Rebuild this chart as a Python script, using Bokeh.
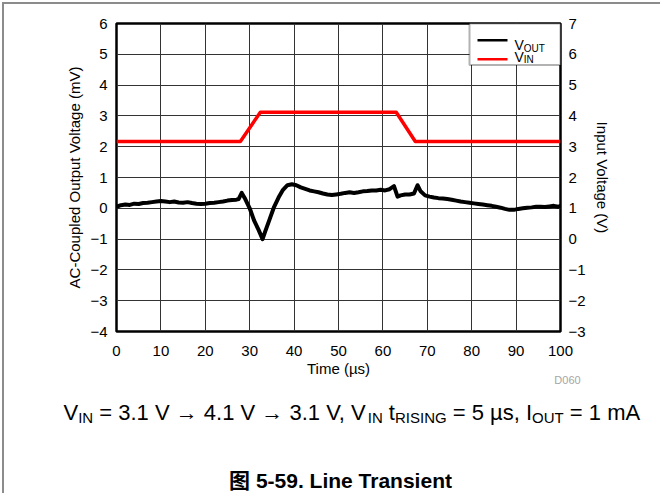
from bokeh.plotting import figure
from bokeh.models import Range1d, LinearAxis, Label, FixedTicker, BoxAnnotation
from bokeh.embed import file_html
from bokeh.resources import INLINE

# ---------------- data ----------------
t_vout = [0, 1, 2, 3, 4, 5, 6, 7, 8, 9, 10, 11, 12, 13, 14, 15, 16, 17, 18, 19, 20,
          21, 22, 23, 24, 25, 26, 27, 27.5, 28.2, 29, 30, 31, 32, 32.9, 33.5, 34.5,
          35.5, 36.5, 37.5, 38.5, 39.5, 40.5, 41.5, 42.5, 43.5, 44.5, 45.5, 46.5,
          47.5, 48.5, 49.5, 50.5, 51.5, 52.5, 53.5, 54.5, 55.5, 56.5, 57.5, 58.5,
          59.5, 60.5, 61.5, 62.5, 63.3, 64, 65, 66, 67, 67.8, 68.5, 69.5, 70.5,
          71.5, 72.5, 73.5, 74.5, 75.5, 76.5, 77.5, 78.5, 79.5, 80.5, 81.5, 82.5,
          83.5, 84.5, 85.5, 86.5, 87.5, 88.5, 89.5, 90.5, 91.5, 92.5, 93.5, 94.5,
          95.5, 96.5, 97.5, 98.5, 99.5, 100]
vout = [0.05, 0.10, 0.12, 0.11, 0.15, 0.14, 0.17, 0.18, 0.20, 0.22, 0.24, 0.22,
        0.20, 0.22, 0.19, 0.18, 0.20, 0.17, 0.15, 0.14, 0.15, 0.17, 0.18, 0.20,
        0.22, 0.25, 0.27, 0.28, 0.30, 0.50, 0.30, 0.00, -0.40, -0.70, -1.00, -0.75,
        -0.35, 0.05, 0.35, 0.60, 0.75, 0.78, 0.75, 0.68, 0.63, 0.58, 0.55, 0.52,
        0.48, 0.45, 0.43, 0.45, 0.47, 0.50, 0.52, 0.50, 0.52, 0.55, 0.56, 0.58,
        0.58, 0.60, 0.58, 0.62, 0.72, 0.38, 0.42, 0.45, 0.45, 0.48, 0.75, 0.55,
        0.42, 0.38, 0.35, 0.33, 0.32, 0.30, 0.28, 0.25, 0.22, 0.20, 0.18, 0.16,
        0.14, 0.12, 0.10, 0.08, 0.05, 0.02, -0.02, -0.05, -0.05, -0.02, 0.00,
        0.02, 0.03, 0.05, 0.05, 0.04, 0.06, 0.08, 0.05, 0.08]
t_vin = [0, 27.9, 32.4, 63.0, 67.3, 100]
vin = [3.17, 3.17, 4.12, 4.12, 3.17, 3.17]

x_ticks = [0, 10, 20, 30, 40, 50, 60, 70, 80, 90, 100]
left_ticks = [-4, -3, -2, -1, 0, 1, 2, 3, 4, 5, 6]
right_ticks = [-3, -2, -1, 0, 1, 2, 3, 4, 5, 6, 7]

x_title = "Time (µs)"
left_title = "AC-Coupled Output Voltage (mV)"
right_title = "Input Voltage (V)"
legend_parts = [[("V", False), ("OUT", True)], [("V", False), ("IN", True)]]
caption_parts = [("V", False), ("IN", True), (" = 3.1 V → 4.1 V → 3.1 V, V", False),
                 ("IN", True), (" t", False), ("RISING", True), (" = 5 µs, I", False),
                 ("OUT", True), (" = 1 mA", False)]
fig_title = "图 5-59. Line Transient"
code_text = "D060"

# ---------------- layout (page pixels) ----------------
ORX, ORY = 4, 4          # page position of the content origin
W = 658
H1 = 375                 # main figure height
GAP = 5                  # gap the browser leaves between the two roots
OVER = 8                 # caption strip overlaps the bottom of the main figure
top2 = ORY + H1 - OVER   # page y of the caption strip's top
H2 = 500 - top2          # caption strip height
FL, FR, FT, FB = 116, 560, 23, 334   # page coords of the plot frame
FONT = "Liberation Sans"
FRAME_GRAY = "2px solid #8c8c8c"

X0, X1, Y0, Y1 = 0, 100, -4, 6


def X(px):
    return X0 + (px - FL) * (X1 - X0) / (FR - FL)


def Y(py):
    return Y1 - (py - FT) * (Y1 - Y0) / (FB - FT)


AW = {' ': 278, '=': 584, '.': 278, ',': 278, 'V': 667, 'I': 278, 'N': 722,
      'O': 778, 'U': 722, 'T': 611, 'R': 722, 'S': 667, 'G': 778, 't': 278,
      'µ': 576, 's': 500, 'm': 833, 'A': 667, '→': 1000}
for d in "0123456789":
    AW[d] = 556


def tw(s, size):
    return sum(AW.get(c, 556) for c in s) * size / 1000.0


p = figure(width=W, height=H1, output_backend="svg", toolbar_location=None,
           x_range=Range1d(X0, X1), y_range=Range1d(Y0, Y1),
           min_border_left=FL - ORX, min_border_right=W - (FR - ORX),
           min_border_top=FT - ORY, min_border_bottom=H1 - (FB - ORY))
p.styles = {"vertical-align": "top",
            "margin-left": "2px", "margin-top": "2px",
            "border-left": FRAME_GRAY, "border-top": FRAME_GRAY}
p.extra_y_ranges = {"vin": Range1d(-3, 7)}
p.background_fill_color = "white"
p.border_fill_color = "white"
p.outline_line_color = "black"
p.outline_line_width = 2.5

p.xaxis.ticker = FixedTicker(ticks=x_ticks)
p.yaxis.ticker = FixedTicker(ticks=left_ticks)
p.xaxis.axis_label = x_title
p.yaxis.axis_label = left_title

raxis = LinearAxis(y_range_name="vin", ticker=FixedTicker(ticks=right_ticks),
                   axis_label=right_title)
p.add_layout(raxis, "right")

for ax in [p.xaxis[0], p.yaxis[0], raxis]:
    ax.axis_line_color = None
    ax.major_tick_line_color = None
    ax.minor_tick_line_color = None
    ax.major_tick_out = 0
    ax.major_tick_in = 0
    ax.major_label_text_font = FONT
    ax.major_label_text_font_size = "15px"
    ax.major_label_text_color = "black"
    ax.axis_label_text_font = FONT
    ax.axis_label_text_font_size = "15px"
    ax.axis_label_text_font_style = "normal"
    ax.axis_label_text_color = "black"

p.xaxis.major_label_standoff = 14
p.xaxis.axis_label_standoff = 1
p.yaxis.major_label_standoff = 9
p.yaxis.axis_label_standoff = 4
raxis.major_label_standoff = 8
raxis.axis_label_standoff = 5

p.xgrid.ticker = FixedTicker(ticks=x_ticks)
p.ygrid.ticker = FixedTicker(ticks=left_ticks)
for g in [p.xgrid[0], p.ygrid[0]]:
    g.grid_line_color = "#333333"
    g.grid_line_width = 1
    g.grid_line_alpha = 1

# legend box (under glyphs, above grid)
p.add_layout(BoxAnnotation(left=X(469), right=X1, top=Y1, bottom=Y(65),
                           fill_color="white", fill_alpha=1,
                           line_color="black", line_width=2, level="underlay"))

# data lines
p.line(t_vin, vin, y_range_name="vin", line_color="#ff0000", line_width=3.5,
       line_join="round")
p.line(t_vout, vout, line_color="black", line_width=4, line_join="round")

# legend samples
p.segment(x0=[X(477), X(477)], y0=[Y(40), Y(59)], x1=[X(507), X(507)],
          y1=[Y(40), Y(59)], line_color=["black", "#ff0000"], line_width=2.5)


def rich(fig, parts, x0, base, size, sub, sub_drop, xf, yf, color="black"):
    x = x0
    for txt, is_sub in parts:
        fs = sub if is_sub else size
        yy = base + (sub_drop if is_sub else 0)
        body = txt.lstrip(" ")
        lead = tw(txt[:len(txt) - len(body)], fs)
        fig.add_layout(Label(x=xf(x + lead), y=yf(yy), text=body, text_font=FONT,
                             text_font_size=f"{fs}px", text_color=color,
                             text_baseline="alphabetic", text_align="left"))
        x += tw(txt, fs)


rich(p, legend_parts[0], 514, 45, 14, 10, 3, X, Y)
rich(p, legend_parts[1], 514, 57, 14, 10, 2, X, Y)

# ---------------- caption strip (its coordinates = page pixels) ----------------
cap = figure(width=W, height=H2, output_backend="svg", toolbar_location=None,
             x_range=Range1d(ORX, ORX + W), y_range=Range1d(top2 + H2, top2),
             x_axis_location=None, y_axis_location=None,
             min_border=0, min_border_left=0, min_border_right=0,
             min_border_top=0, min_border_bottom=0)
cap.styles = {"vertical-align": "top", "margin-top": f"-{GAP + OVER}px",
              "margin-left": "2px", "border-left": FRAME_GRAY}
cap.grid.visible = False
cap.outline_line_color = None
cap.background_fill_color = None
cap.border_fill_color = None

ident = lambda v: v
cap.add_layout(Label(x=567, y=386, text=code_text, text_font=FONT,
                     text_font_size="11px", text_color="#a6a6a6",
                     text_baseline="alphabetic", text_align="center"))
rich(cap, caption_parts, 63, 419, 22, 15, 5, ident, ident)
cap.add_layout(Label(x=340, y=487, text=fig_title,
                     text_font="Liberation Sans, Noto Sans CJK SC",
                     text_font_size="21px", text_font_style="bold", text_color="black",
                     text_baseline="alphabetic", text_align="center"))

open("out.html", "w").write(file_html([p, cap], INLINE))
